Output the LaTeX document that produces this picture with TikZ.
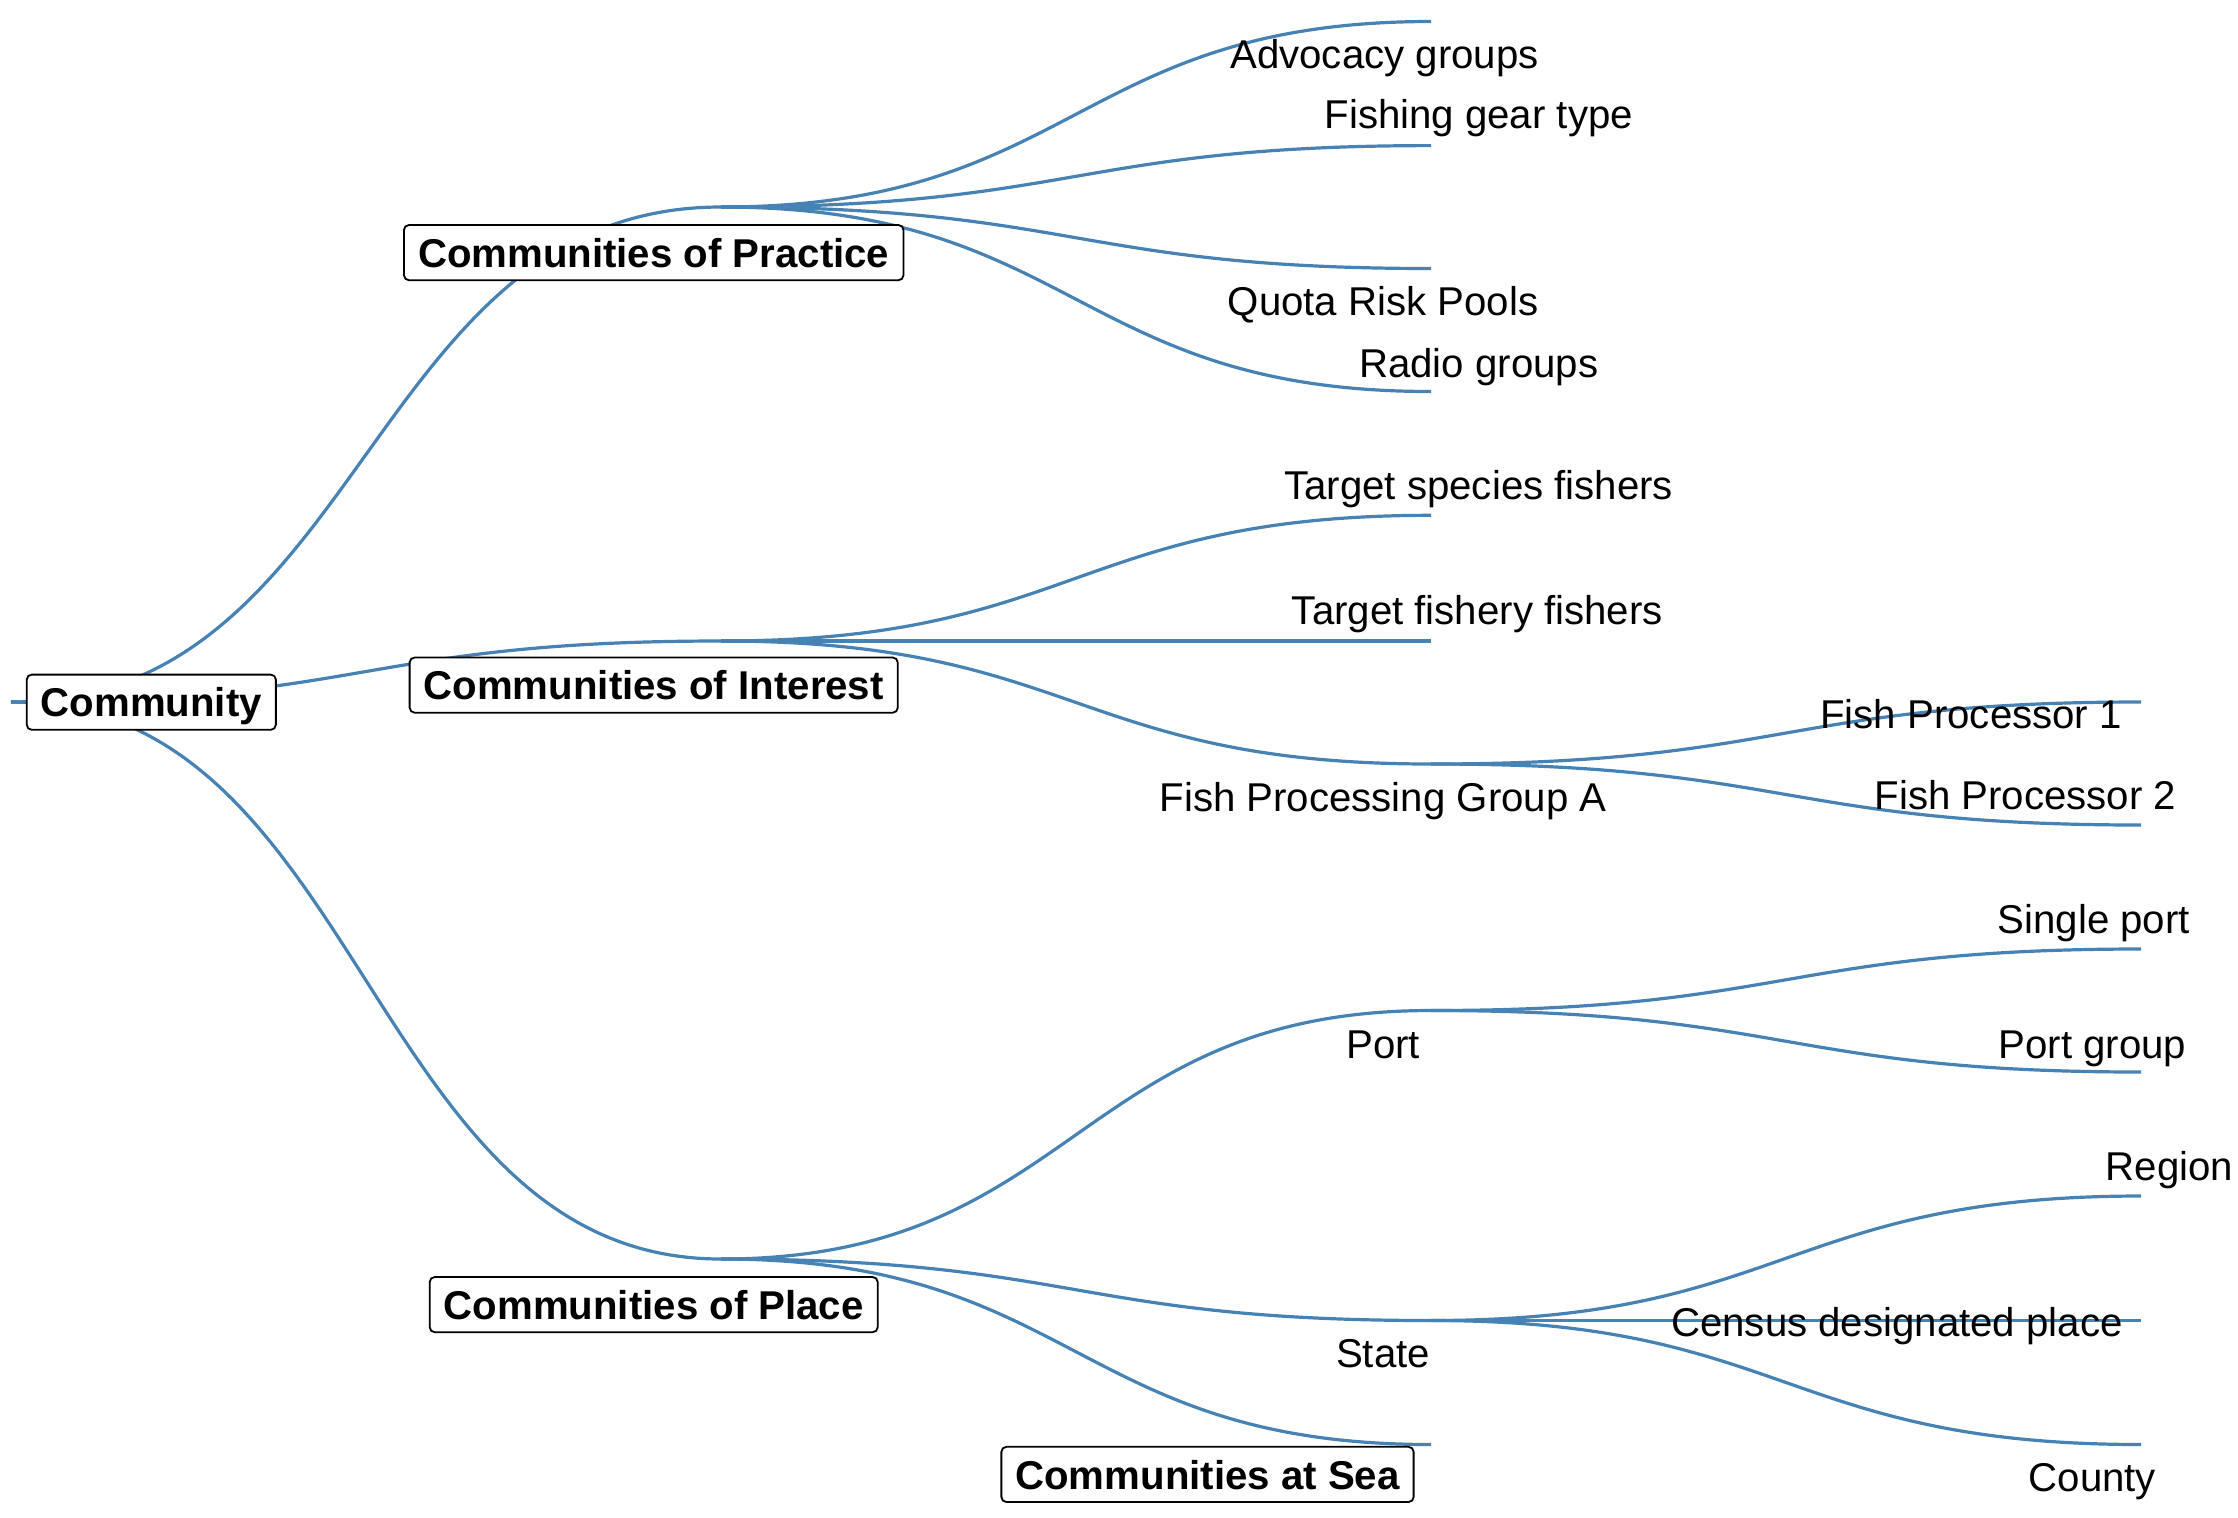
\documentclass[tikz,border=0pt]{standalone}
\usepackage{fontspec}
\setmainfont{Liberation Sans}
\usetikzlibrary{calc}
\definecolor{linkblue}{RGB}{70,130,180}
\begin{document}
\begin{tikzpicture}[x=0.5pt,y=-0.5pt,
  link/.style={draw=linkblue,line width=1.6pt,
    to path={.. controls ($(\tikztostart)!.5!(\tikztotarget |- \tikztostart)$)
      and ($(\tikztostart |- \tikztotarget)!.5!(\tikztotarget)$) .. (\tikztotarget)}},
  lbl/.style={font=\fontsize{20.1}{24}\selectfont,inner sep=0pt,text height=16.6pt,text depth=2pt,anchor=center},
  box/.style={lbl,font=\fontsize{20.1}{24}\selectfont\bfseries,draw=black,line width=0.9pt,fill=white,
    rounded corners=2.5pt,minimum height=27.6pt,inner xsep=7pt}]
\useasboundingbox (0,0) rectangle (2238,1517);
% tree points
\coordinate (root)   at (11,702);
\coordinate (prac)   at (721,207);
\coordinate (inte)   at (721,641);
\coordinate (plac)   at (721,1259);
\coordinate (adv)    at (1431,21.5);
\coordinate (gear)   at (1431,145.6);
\coordinate (quota)  at (1431,268.5);
\coordinate (radio)  at (1431,391.5);
\coordinate (tspec)  at (1431,515.3);
\coordinate (tfish)  at (1431,641);
\coordinate (fpga)   at (1431,764);
\coordinate (fp1)    at (2141,702);
\coordinate (fp2)    at (2141,825);
\coordinate (port)   at (1431,1010.5);
\coordinate (sport)  at (2141,949);
\coordinate (pgrp)   at (2141,1072);
\coordinate (state)  at (1431,1320.5);
\coordinate (region) at (2141,1196);
\coordinate (census) at (2141,1320.5);
\coordinate (county) at (2141,1444.5);
\coordinate (sea)    at (1431,1444.5);
% links
\foreach \a/\b in {root/prac,root/inte,root/plac,
  prac/adv,prac/gear,prac/quota,prac/radio,
  inte/tspec,inte/tfish,inte/fpga,fpga/fp1,fpga/fp2,
  plac/port,plac/state,plac/sea,
  port/sport,port/pgrp,state/region,state/census,state/county}
  \path[link] (\a) to (\b);
% plain labels
\node[lbl] (Ladv)    at (1384.5,54)   {Advocacy groups};
\node[lbl] (Lgear)   at (1478.7,114)  {Fishing gear type};
\node[lbl] (Lquota)  at (1383.1,301)  {Quota Risk Pools};
\node[lbl] (Lradio)  at (1478.7,362.5){Radio groups};
\node[lbl] (Ltspec)  at (1478.7,485.3){Target species fishers};
\node[lbl] (Ltfish)  at (1477.3,609.5){Target fishery fishers};
\node[lbl] (Lfpga)   at (1383.1,796.4){Fish Processing Group A};
\node[lbl] (Lfp1)    at (1971.1,713.7){Fish Processor 1};
\node[lbl] (Lfp2)    at (2025.4,795)  {Fish Processor 2};
\node[lbl] (Lsport)  at (2093.8,919.2){Single port};
\node[lbl] (Lpgrp)   at (2092.4,1043.4){Port group};
\node[lbl] (Lport)   at (1383.1,1043.4){Port};
\node[lbl] (Lregion) at (2169.5,1166.1){Region};
\node[lbl] (Lcensus) at (1896.9,1321.7){Census designated place};
\node[lbl] (Lcounty) at (2092.4,1477.2){County};
\node[lbl] (Lstate)  at (1383.1,1353.1){State};
% boxed labels
\node[box,minimum width=122.8pt] (Lroot) at (151.3,702.2) {Community};
\node[box,minimum width=249.8pt] (Lprac) at (653.7,252.6) {Communities of Practice};
\node[box,minimum width=244pt]   (Linte) at (653.7,685.1) {Communities of Interest};
\node[box,minimum width=224pt]   (Lplac) at (653.7,1304.6){Communities of Place};
\node[box,minimum width=205.5pt] (Lsea)  at (1207.5,1474.4){Communities at Sea};
\end{tikzpicture}
\end{document}
